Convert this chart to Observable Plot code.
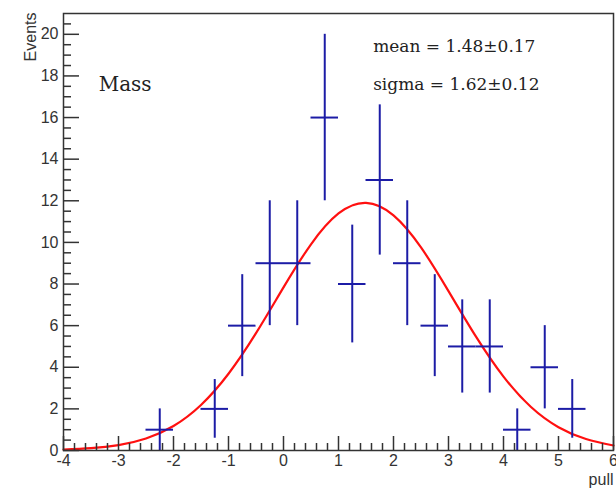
<!DOCTYPE html>
<html>
<head>
<meta charset="utf-8">
<script src="https://cdn.jsdelivr.net/npm/d3@7"></script>
<script src="https://cdn.jsdelivr.net/npm/@observablehq/plot@0.6"></script>
<style>
  html, body { margin: 0; padding: 0; background: #fff; }
</style>
</head>
<body>
<div id="chart"></div>
<script>
// Histogram bins (centers), counts and Poisson errors
const binCenters = [-2.25, -1.25, -0.75, -0.25, 0.25, 0.75, 1.25, 1.75, 2.25, 2.75, 3.25, 3.75, 4.25, 4.75, 5.25];
const counts     = [1, 2, 6, 9, 9, 16, 8, 13, 9, 6, 5, 5, 1, 4, 2];
const errors     = [1, 1.41, 2.45, 3, 3, 4, 2.83, 3.61, 3, 2.45, 2.24, 2.24, 1, 2, 1.41];
const binHalfWidth = 0.25;

// Fitted Gaussian curve
const fitX = [-4, -3.5, -3, -2.5, -2, -1.5, -1, -0.5, 0, 0.5, 1, 1.5, 2, 2.5, 3, 3.5, 4, 4.5, 5, 5.5, 6];
const fitY = [0.04, 0.11, 0.26, 0.58, 1.18, 2.19, 3.69, 5.64, 7.84, 9.91, 11.39, 11.9, 11.30, 9.76, 7.66, 5.47, 3.55, 2.09, 1.12, 0.55, 0.24];

// Axis ticks
const xMajor = [-4, -3, -2, -1, 0, 1, 2, 3, 4, 5, 6];
const xMinor = d3.range(-40, 61, 2).filter(v => v % 10 !== 0).map(v => v / 10);
const yMajor = [0, 2, 4, 6, 8, 10, 12, 14, 16, 18, 20];
const yMinor = d3.range(0, 42, 1).filter(v => v % 4 !== 0).map(v => v / 2);

// Annotations
const labels = [
  {text: "Mass", x: -3.36, y: 17.26, size: 20},
  {text: "mean = 1.48\u00b10.17", x: 1.63, y: 19.16, size: 17},
  {text: "sigma = 1.62\u00b10.12", x: 1.63, y: 17.33, size: 17}
];

const hist = binCenters.map((c, i) => ({c, n: counts[i], e: errors[i]}));
const fit = fitX.map((x, i) => ({x, y: fitY[i]}));

const blue = "#1c1ca6";
const axisColor = "#333";
const sans = "'Liberation Sans', Arial, Helvetica, sans-serif";

const chart = Plot.plot({
  width: 616,
  height: 488,
  marginLeft: 63,
  marginRight: 3,
  marginTop: 13,
  marginBottom: 38,
  style: {fontFamily: sans, background: "#fff", color: axisColor},
  x: {domain: [-4, 6]},
  y: {domain: [0, 21]},
  marks: [
    Plot.line(fit, {x: "x", y: "y", curve: "natural", stroke: "#ff1010", strokeWidth: 2.2}),
    Plot.ruleX(hist, {x: "c", y1: d => d.n - d.e, y2: d => d.n + d.e, stroke: blue, strokeWidth: 2}),
    Plot.ruleY(hist, {y: "n", x1: d => d.c - binHalfWidth, x2: d => d.c + binHalfWidth, stroke: blue, strokeWidth: 2}),
    Plot.frame({stroke: axisColor, strokeWidth: 1.5}),
    Plot.axisX({ticks: xMajor, tickSize: -14, tickPadding: 18, tickFormat: d => String(d), fontSize: 16, label: null, strokeWidth: 1.5, stroke: axisColor, fill: axisColor}),
    Plot.axisX({ticks: xMinor, tickSize: -7, text: null, label: null, strokeWidth: 1.5, stroke: axisColor}),
    Plot.axisY({ticks: yMajor, tickSize: -16, tickPadding: 21, tickFormat: d => String(d), fontSize: 16, label: null, strokeWidth: 1.5, stroke: axisColor, fill: axisColor}),
    Plot.axisY({ticks: yMinor, tickSize: -8, text: null, label: null, strokeWidth: 1.5, stroke: axisColor}),
    Plot.text(["Events"], {frameAnchor: "top-left", text: d => d, rotate: -90, textAnchor: "end", dx: -39, dy: -1, fontSize: 16, fill: axisColor}),
    Plot.text(["pull"], {frameAnchor: "bottom-right", text: d => d, textAnchor: "end", lineAnchor: "bottom", dx: 0, dy: 34, fontSize: 16, fill: axisColor}),
    Plot.text(labels, {x: "x", y: "y", text: "text", fontSize: d => d.size, textAnchor: "start", lineAnchor: "bottom", fontFamily: "'DejaVu Serif', serif", fill: "#222"})
  ]
});
document.getElementById("chart").appendChild(chart);
</script>
</body>
</html>
